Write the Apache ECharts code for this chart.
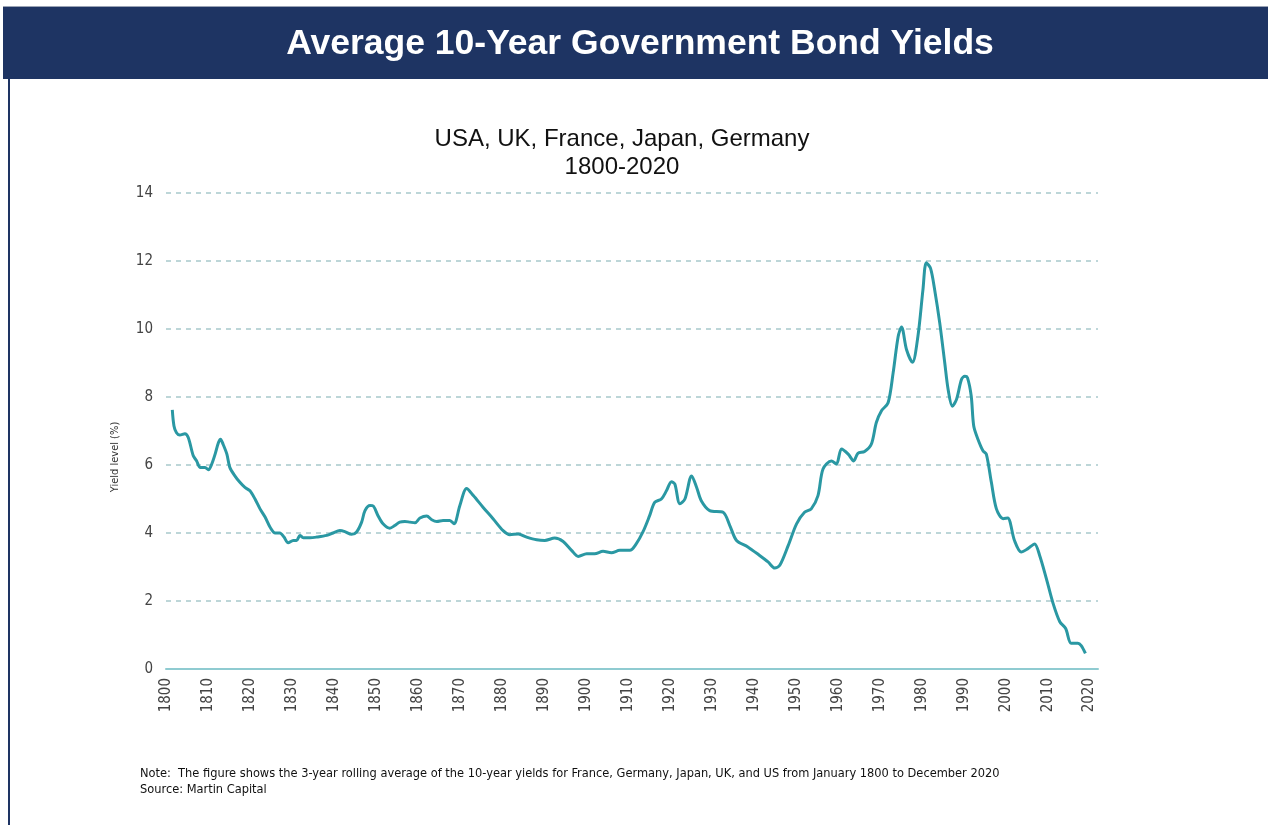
<!DOCTYPE html>
<html>
<head>
<meta charset="utf-8">
<script src="https://cdn.jsdelivr.net/npm/echarts@6/dist/echarts.min.js"></script>
<style>
html,body{margin:0;padding:0;background:#fff;}
#chart{width:1268px;height:825px;}
</style>
</head>
<body>
<div id="chart"></div>
<script>
const years = [1801.5,1801.9,1802.5,1803.3,1804.5,1805.3,1806.5,1807.3,1808.1,1809.3,1810.1,1810.9,1811.7,1812.5,1813.0,1813.6,1814.5,1815.2,1816.4,1817.6,1818.8,1820.0,1821.2,1822.4,1823.6,1824.8,1826.0,1827.1,1828.1,1829.1,1830.3,1831.1,1831.9,1832.7,1834.3,1835.9,1838.3,1839.8,1841.4,1842.6,1844.2,1845.4,1846.6,1847.4,1848.6,1849.4,1850.5,1851.7,1853.3,1854.5,1855.7,1856.9,1858.1,1859.3,1860.5,1862.1,1863.3,1864.5,1866.0,1867.6,1868.6,1870.0,1871.6,1873.2,1875.5,1877.9,1880.3,1881.9,1883.9,1885.9,1888.3,1890.2,1892.6,1894.6,1896.6,1898.2,1900.2,1902.1,1904.1,1906.1,1908.1,1910.5,1912.0,1913.6,1915.2,1916.4,1918.0,1919.2,1920.4,1921.2,1922.4,1923.6,1925.2,1926.4,1927.5,1929.5,1932.7,1934.3,1935.9,1938.6,1941.4,1943.4,1945.0,1946.2,1948.2,1950.2,1952.1,1953.7,1955.3,1956.5,1958.5,1959.7,1960.9,1962.5,1963.8,1964.8,1966.4,1968.0,1969.2,1970.4,1972.0,1973.2,1974.4,1975.2,1976.4,1977.8,1979.1,1980.3,1981.1,1982.1,1983.1,1984.3,1985.5,1986.3,1987.3,1988.3,1989.5,1990.3,1990.9,1991.8,1992.4,1993.4,1994.6,1995.4,1996.6,1997.8,1999.4,2000.5,2002.1,2003.7,2005.3,2006.9,2008.1,2009.7,2011.3,2012.9,2014.3,2015.6,2017.2,2018.0,2019.0];
const yields = [7.62,7.15,6.95,6.88,6.92,6.81,6.27,6.12,5.93,5.93,5.86,6.03,6.32,6.66,6.76,6.61,6.32,5.93,5.68,5.49,5.34,5.24,5.00,4.71,4.47,4.17,4.00,4.00,3.88,3.71,3.78,3.78,3.93,3.86,3.86,3.88,3.93,4.00,4.07,4.04,3.96,4.03,4.32,4.66,4.81,4.79,4.51,4.27,4.14,4.22,4.32,4.34,4.32,4.30,4.44,4.50,4.39,4.34,4.37,4.37,4.27,4.81,5.31,5.10,4.76,4.42,4.07,3.95,3.97,3.88,3.80,3.78,3.85,3.75,3.49,3.31,3.39,3.39,3.46,3.42,3.49,3.49,3.68,4.03,4.51,4.90,5.00,5.24,5.51,5.44,4.86,5.00,5.68,5.34,4.95,4.66,4.61,4.22,3.78,3.59,3.34,3.15,2.97,3.05,3.63,4.27,4.61,4.71,5.10,5.88,6.12,6.03,6.47,6.32,6.12,6.34,6.40,6.61,7.25,7.59,7.83,8.71,9.78,10.06,9.39,9.02,9.78,11.15,11.95,11.79,11.15,10.18,9.00,8.22,7.73,7.93,8.52,8.61,8.57,8.03,7.15,6.76,6.42,6.32,5.49,4.71,4.42,4.44,3.78,3.44,3.54,3.68,3.34,2.66,1.93,1.39,1.19,0.76,0.76,0.69,0.46];
const yTicks = [0,2,4,6,8,10,12,14];
const xTickYears = [1800,1810,1820,1830,1840,1850,1860,1870,1880,1890,1900,1910,1920,1930,1940,1950,1960,1970,1980,1990,2000,2010,2020];

const chart = echarts.init(document.getElementById('chart'));
const seriesData = years.map((y, i) => [y, yields[i]]);
const narrow = "'Liberation Sans Narrow','DejaVu Sans Condensed','Liberation Sans',sans-serif";

chart.setOption({
  animation: false,
  backgroundColor: '#ffffff',
  title: {
    text: 'USA, UK, France, Japan, Germany\n1800-2020',
    left: 617, top: 120, textAlign: 'center',
    textStyle: {fontFamily: "'Liberation Sans',Arial,sans-serif", fontSize: 24, fontWeight: 'normal', color: '#111', lineHeight: 28}
  },
  graphic: [
    {type: 'rect', shape: {x: 3, y: 7, width: 1265, height: 72}, style: {fill: '#1e3463'}},
    {type: 'rect', shape: {x: 3, y: 6, width: 1265, height: 1}, style: {fill: '#9aa3b5'}},
    {type: 'rect', shape: {x: 8, y: 79, width: 2, height: 746}, style: {fill: '#1e3463'}},
    {type: 'text', x: 640, y: 44, style: {text: 'Average 10-Year Government Bond Yields', fill: '#ffffff', font: "bold 35.5px 'Liberation Sans', Arial, sans-serif", textAlign: 'center', textVerticalAlign: 'middle'}},
    {type: 'text', x: 115, y: 457, rotation: Math.PI / 2, style: {text: 'Yield level (%)', fill: '#333', font: "11px " + narrow, textAlign: 'center', textVerticalAlign: 'middle'}},
    {type: 'text', x: 140, y: 767, style: {text: 'Note:  The figure shows the 3-year rolling average of the 10-year yields for France, Germany, Japan, UK, and US from January 1800 to December 2020', fill: '#111', font: "12.7px " + narrow}},
    {type: 'text', x: 140, y: 783, style: {text: 'Source: Martin Capital', fill: '#111', font: "12.7px " + narrow}}
  ],
  grid: {left: 166, right: 170, top: 193, bottom: 156, containLabel: false},
  xAxis: {
    type: 'value', min: 1800, max: 2022, interval: 10,
    splitLine: {show: false},
    axisTick: {show: false},
    axisLine: {show: true, lineStyle: {color: '#8fcbd1', width: 2}},
    axisLabel: {
      rotate: 90, margin: 9, color: '#444', fontSize: 15, fontFamily: narrow,
      formatter: v => xTickYears.indexOf(v) >= 0 ? String(v) : ''
    }
  },
  yAxis: {
    type: 'value', min: 0, max: 14, interval: 2,
    axisLine: {show: false}, axisTick: {show: false},
    axisLabel: {margin: 13, color: '#444', fontSize: 15, fontFamily: narrow,
      formatter: v => yTicks.indexOf(v) >= 0 ? String(v) : ''},
    splitLine: {show: true, lineStyle: {color: '#a8c9cc', width: 1.5, type: [5, 5]}}
  },
  series: [{
    type: 'line', data: seriesData, showSymbol: false, smooth: 0.3,
    lineStyle: {color: '#2a98a3', width: 3},
    z: 5
  }]
});
</script>
</body>
</html>
